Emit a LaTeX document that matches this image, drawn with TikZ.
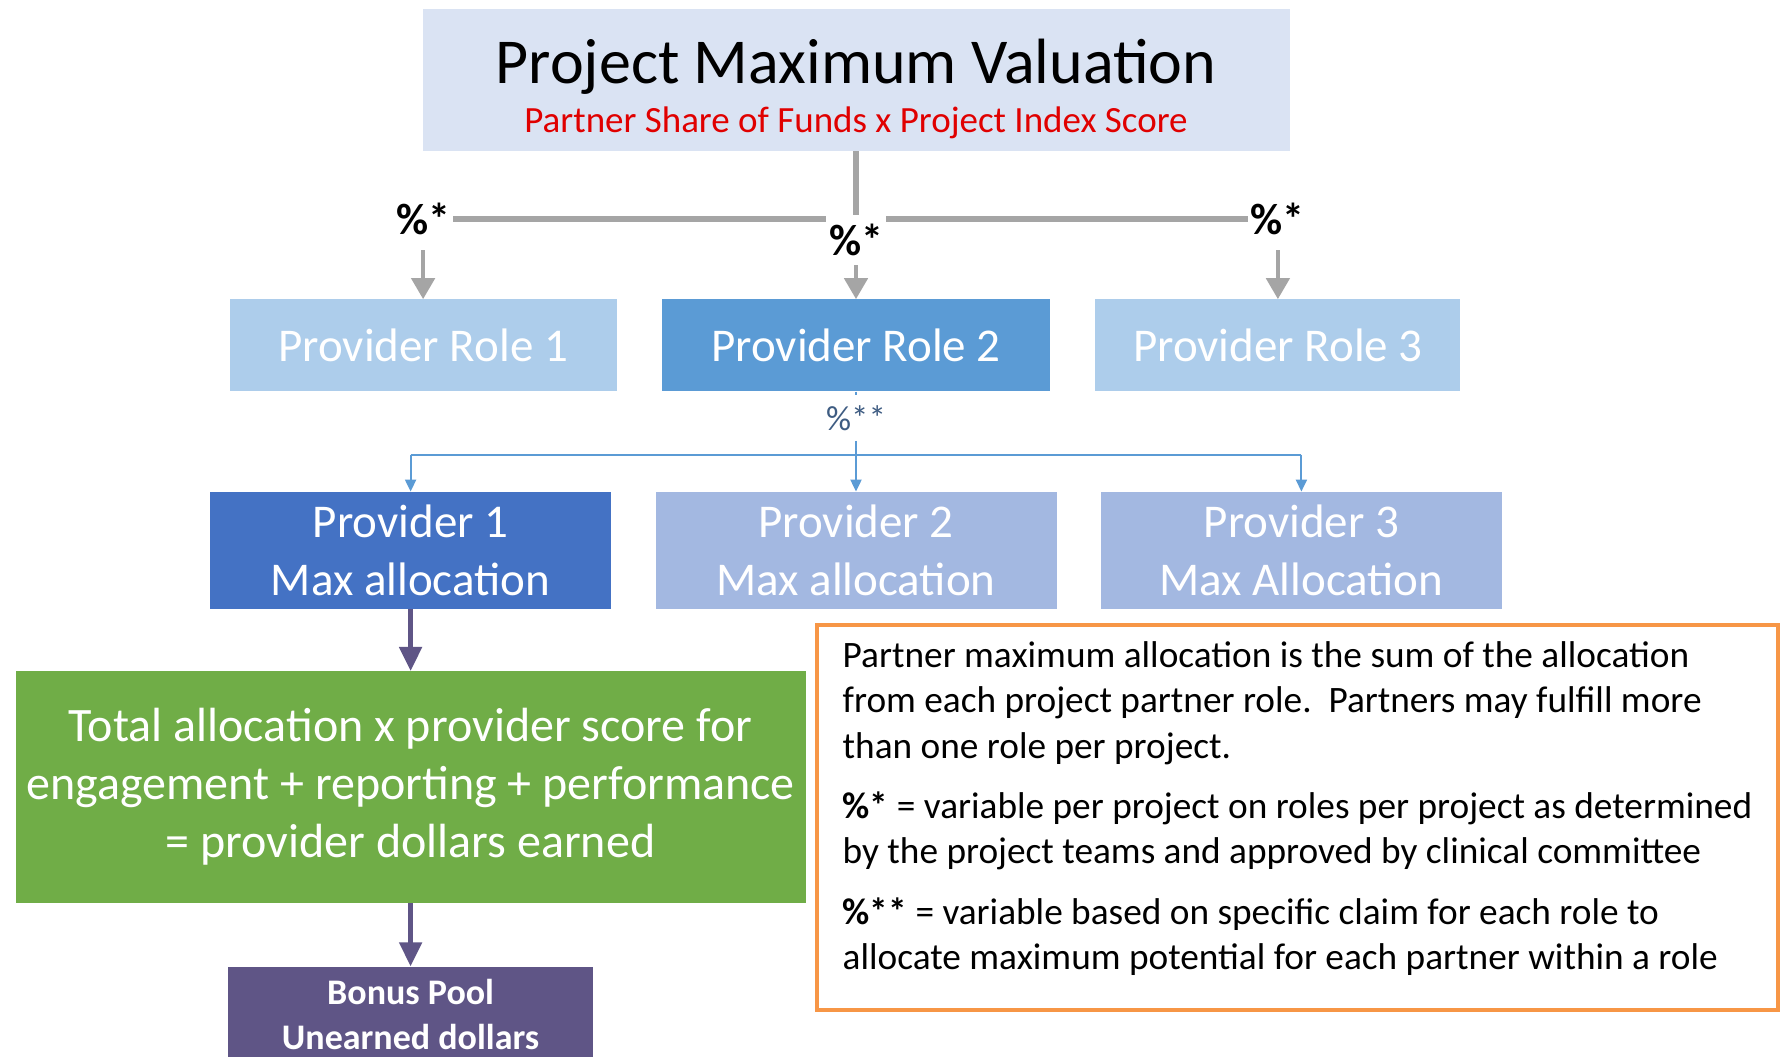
\documentclass[tikz,border=0pt]{standalone}
\usepackage{fontspec}
\setmainfont{Carlito}
\usetikzlibrary{positioning,arrows.meta}

\definecolor{titlebg}{HTML}{DAE3F3}
\definecolor{titlered}{HTML}{E00000}
\definecolor{linegray}{HTML}{A5A5A5}
\definecolor{rolelight}{HTML}{ADCDEB}
\definecolor{roledark}{HTML}{5B9BD5}
\definecolor{provdark}{HTML}{4472C4}
\definecolor{provlight}{HTML}{A3B8E1}
\definecolor{linkblue}{HTML}{5B9BD5}
\definecolor{pctblue}{HTML}{3E5C82}
\definecolor{scoregreen}{HTML}{70AD47}
\definecolor{poolpurple}{HTML}{5F5586}
\definecolor{noteorange}{HTML}{F79646}

\begin{document}
\begin{tikzpicture}[x=1pt, y=1pt, node distance=45pt,
	colbox/.style={rectangle, inner sep=0pt, align=center, text=white},
	rolebox/.style={colbox, minimum height=92pt, font=\fontsize{47}{56}\selectfont},
	provbox/.style={colbox, minimum width=401pt, minimum height=117pt, font=\fontsize{47}{58}\selectfont},
	pct/.style={font=\bfseries\fontsize{44}{44}\selectfont, inner xsep=3pt, inner ysep=0pt, minimum height=62pt},
	treeline/.style={draw=linegray, line width=6pt},
	grayarrow/.style={draw=linegray, line width=4.5pt, -{Triangle[length=21pt,width=23pt]}},
	bluelink/.style={draw=linkblue, line width=2pt},
	bluearrow/.style={bluelink, -{Triangle[length=12pt,width=11pt]}},
	purplearrow/.style={draw=poolpurple, line width=5pt, -{Triangle[length=24pt,width=22pt]}}]

	\fill[white] (0,0) rectangle (1781,1057);
	\useasboundingbox (0,0) rectangle (1781,1057);

	\node[fill=titlebg, minimum width=867pt, minimum height=142pt, inner sep=0pt, align=center,
		font=\fontsize{64}{48.5}\selectfont] (title) at (856,977)
		{\rule{0pt}{62pt}Project Maximum Valuation\\{\color{titlered}\fontsize{37}{44}\selectfont Partner Share of Funds x Project Index Score}};

	\node[rolebox, fill=roledark, minimum width=388pt] (role2) [below=148pt of title]      {Provider Role 2};
	\node[rolebox, fill=rolelight, minimum width=387pt] (role1) [left=of role2]           {Provider Role 1};
	\node[rolebox, fill=rolelight, minimum width=365pt] (role3) [right=of role2]          {Provider Role 3};

	\node[provbox, fill=provlight] (p2) [below=100pt of role2]                 {Provider 2\\Max allocation};
	\node[provbox, fill=provdark] (p1) [left=44pt of p2]                       {Provider 1\\Max allocation};
	\node[provbox, fill=provlight] (p3) [right=44pt of p2]                     {Provider 3\\Max Allocation};

	\node[colbox, fill=scoregreen, minimum width=790pt, minimum height=232pt,
		font=\fontsize{48}{58}\selectfont] (score) [below=62pt of p1]
		{Total allocation x provider score for\\engagement + reporting + performance\\= provider dollars earned};
	\node[colbox, fill=poolpurple, minimum width=365pt, minimum height=96pt,
		font=\bfseries\fontsize{36}{45}\selectfont] (pool) [below=63pt of score]
		{Bonus Pool\\Unearned dollars};

	\node[draw=noteorange, line width=4pt, minimum width=961pt, minimum height=385pt, inner sep=0pt,
		align=left, font=\fontsize{37.3}{45.4}\selectfont] (note) [below=14pt of p3, xshift=-4pt]
		{Partner maximum allocation is the sum of the allocation\\
		from each project partner role.\ \ Partners may fulfill more\\
		than one role per project.\\[15pt]
		\textbf{\%*} = variable per project on roles per project as determined\\
		by the project teams and approved by clinical committee\\[15pt]
		\textbf{\%**} = variable based on specific claim for each role to\\
		allocate maximum potential for each partner within a role\rule[-24pt]{0pt}{1pt}};

	% shares per role
	\node[pct] (pct1) at (role1.north |- 0,838) {\%*};
	\node[pct] (pct3) at (role3.north |- 0,838) {\%*};
	\node[pct, minimum height=50pt] (pct2) at (role2.north |- 0,817) {\%*};

	\draw[treeline] (title) -- (pct2);
	\draw[treeline] (pct1) -- (pct1 -| pct2.west);
	\draw[treeline] (pct1 -| pct2.east) -- (pct3);
	\draw[grayarrow] (pct1) -- (role1);
	\draw[grayarrow] (pct2) -- (role2);
	\draw[grayarrow] (pct3) -- (role3);

	% shares per provider
	\node[text=pctblue, font=\fontsize{35}{35}\selectfont, inner sep=0pt, minimum height=46pt]
		(pct2b) [below=3pt of role2] {\%**};
	\coordinate[below=63pt of role2] (bus);
	\draw[bluelink] (role2) -- (pct2b);
	\draw[bluearrow] (pct2b) -- (p2);
	\draw[bluelink] (p1.north |- bus) -- (p3.north |- bus);
	\draw[bluearrow] (p1.north |- bus) -- (p1);
	\draw[bluearrow] (p3.north |- bus) -- (p3);

	\draw[purplearrow] (p1) -- (score);
	\draw[purplearrow] (score) -- (pool);

\end{tikzpicture}
\end{document}
